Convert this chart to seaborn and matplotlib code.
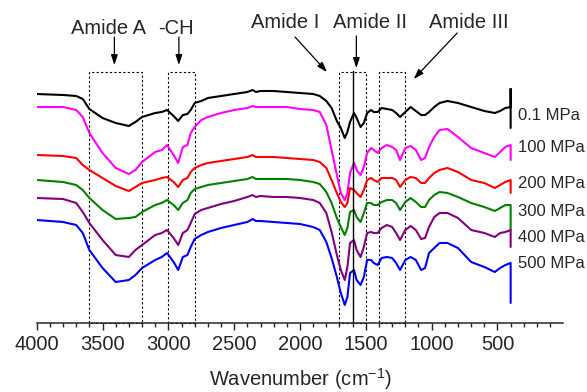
import pandas as pd
import seaborn as sns
import matplotlib.pyplot as plt
from matplotlib.patches import Rectangle
from matplotlib.ticker import FixedLocator

# FTIR spectra, offset traces (arbitrary units), one per pressure
wavenumber = [4000, 3800, 3700, 3650, 3600, 3500, 3400, 3300, 3250, 3200,
              3100, 3050, 3010, 2960, 2925, 2890, 2855, 2830, 2800, 2750,
              2700, 2600, 2500, 2400, 2360, 2335, 2300, 2200, 2100, 2000,
              1900, 1850, 1800, 1760, 1720, 1690, 1660, 1640, 1620, 1590,
              1570, 1540, 1515, 1490, 1460, 1440, 1410, 1380, 1340, 1300,
              1270, 1240, 1200, 1160, 1120, 1080, 1050, 1020, 980, 940,
              880, 800, 700, 600, 520, 480, 440, 400]

p_01 = [229, 228, 227, 224, 214, 205, 200, 197, 201, 206,
        210, 211, 213, 207, 202, 208, 209, 213, 220, 222,
        225, 227, 229, 231, 233, 231, 232, 232, 231, 230,
        229, 227, 222, 215, 202, 195, 185, 191, 201, 210,
        205, 196, 200, 210, 213, 211, 211, 215, 214, 213,
        210, 206, 211, 216, 212, 208, 208, 211, 216, 220,
        222, 220, 216, 212, 210, 212, 215, 216]
p_100 = [216, 216, 213, 206, 190, 170, 155, 149, 153, 161,
         171, 173, 178, 168, 160, 176, 178, 190, 196, 203,
         206, 210, 213, 215, 217, 216, 216, 216, 216, 214,
         213, 211, 198, 173, 148, 130, 123, 130, 150, 160,
         153, 148, 156, 170, 175, 173, 170, 175, 178, 176,
         173, 163, 175, 177, 173, 163, 165, 176, 186, 193,
         194, 186, 175, 170, 166, 171, 176, 178]
p_200 = [168, 167, 165, 158, 153, 145, 137, 132, 136, 140,
         143, 145, 146, 141, 136, 143, 145, 151, 155, 158,
         160, 162, 164, 166, 168, 166, 166, 166, 165, 164,
         163, 161, 155, 143, 130, 121, 116, 120, 135, 133,
         130, 126, 133, 143, 145, 143, 141, 145, 145, 145,
         143, 136, 143, 146, 145, 140, 140, 145, 150, 153,
         155, 151, 143, 140, 135, 138, 141, 143]
p_300 = [143, 141, 138, 133, 125, 113, 104, 105, 106, 111,
         118, 120, 123, 118, 113, 120, 123, 130, 134, 136,
         138, 140, 142, 144, 146, 144, 144, 144, 144, 143,
         141, 139, 131, 120, 105, 96, 88, 95, 111, 113,
         106, 101, 110, 120, 120, 118, 118, 121, 123, 123,
         120, 113, 121, 125, 121, 116, 116, 123, 128, 131,
         130, 126, 120, 116, 112, 115, 118, 118]
p_400 = [125, 124, 120, 111, 100, 83, 68, 66, 73, 78,
         88, 90, 93, 85, 78, 90, 93, 100, 109, 113,
         115, 119, 122, 126, 128, 126, 127, 126, 126, 125,
         123, 120, 110, 91, 68, 53, 43, 56, 80, 83,
         73, 66, 76, 90, 91, 90, 90, 95, 98, 96,
         90, 83, 93, 97, 93, 84, 85, 96, 106, 110,
         110, 105, 93, 90, 86, 90, 91, 93]
p_500 = [103, 101, 98, 90, 73, 55, 41, 43, 48, 55,
         63, 66, 70, 61, 53, 66, 68, 76, 84, 88,
         91, 95, 98, 101, 104, 102, 102, 101, 100, 99,
         96, 93, 81, 65, 46, 30, 18, 26, 50, 53,
         43, 38, 46, 63, 63, 60, 58, 65, 66, 65,
         60, 53, 63, 66, 63, 53, 55, 70, 75, 80,
         80, 75, 61, 56, 51, 55, 58, 60]

# end-of-scan drop recorded at 400 cm-1 for each trace
end_drop = [[234, 195], [163], [130], [93], [76], [20]]

pressures = ["0.1 MPa", "100 MPa", "200 MPa", "300 MPa", "400 MPa", "500 MPa"]
colors = ["#000000", "#ff00ff", "#ff0000", "#008000", "#800080", "#0000ff"]
label_level = [208, 175, 139, 111, 86, 59]

series = [p_01, p_100, p_200, p_300, p_400, p_500]
rows = []
for name, vals, tail in zip(pressures, series, end_drop):
    for w, v in zip(wavenumber, vals):
        rows.append((w, v, name))
    for v in tail:
        rows.append((wavenumber[-1], v, name))
df = pd.DataFrame(rows, columns=["wavenumber", "signal", "pressure"])

sns.set_style("white")
plt.rcParams["font.family"] = ["Liberation Sans", "DejaVu Sans"]
plt.rcParams["mathtext.default"] = "regular"

fig = plt.figure(figsize=(5.87, 3.92), dpi=100)
ax = fig.add_axes([36.7 / 587, 69 / 392, 526.6 / 587, 323 / 392])

sns.lineplot(data=df, x="wavenumber", y="signal", hue="pressure",
             palette=colors, estimator=None, sort=False, legend=False,
             linewidth=1.5, ax=ax)

ax.set_xlim(4000, 0)
ax.set_ylim(0, 323)

# band regions
boxes = [(3600, 3200), (3000, 2800), (1700, 1500), (1400, 1200)]
for hi, lo in boxes:
    ax.add_patch(Rectangle((lo, 0), hi - lo, 251, fill=False, ec="black",
                           lw=0.8, ls=(0, (2, 2)), clip_on=False))
ax.plot([1600, 1600], [0, 252], color="black", lw=1)

arrow = dict(arrowstyle="-|>,head_length=0.6,head_width=0.2", color="black",
             lw=0.9, shrinkA=0, shrinkB=0)
fs = 14.5
ax.text(3458, 295, "Amide A", ha="center", va="center", fontsize=fs)
ax.annotate("", xy=(3410, 258), xytext=(3410, 286), arrowprops=arrow)
ax.text(2943, 295, "-CH", ha="center", va="center", fontsize=fs)
ax.annotate("", xy=(2920, 258), xytext=(2920, 286), arrowprops=arrow)
ax.text(2112, 301, "Amide I", ha="center", va="center", fontsize=fs)
ax.annotate("", xy=(1795, 251), xytext=(2038, 286), arrowprops=arrow)
ax.text(1466, 301, "Amide II", ha="center", va="center", fontsize=fs)
ax.annotate("", xy=(1572, 255), xytext=(1572, 287), arrowprops=arrow)
ax.text(720, 301, "Amide III", ha="center", va="center", fontsize=fs)
ax.annotate("", xy=(1136, 244), xytext=(806, 290), arrowprops=arrow)

for name, lvl in zip(pressures, label_level):
    ax.text(345, lvl, name, ha="left", va="center", fontsize=12, clip_on=False)

sns.despine(ax=ax, left=True)
ax.spines["bottom"].set_linewidth(1.1)
ax.set_yticks([])
ax.xaxis.set_major_locator(FixedLocator(range(500, 4001, 500)))
ax.xaxis.set_minor_locator(FixedLocator(range(100, 4001, 100)))
ax.tick_params(axis="x", which="major", direction="out", length=5, width=1,
               labelsize=fs, pad=4, bottom=True)
ax.tick_params(axis="x", which="minor", direction="out", length=3, width=1,
               bottom=True)
ax.set_ylabel("")
ax.set_xlabel("Wavenumber (cm$^{-1}$)", fontsize=fs, labelpad=8)

fig.savefig("out.png", dpi=100)
